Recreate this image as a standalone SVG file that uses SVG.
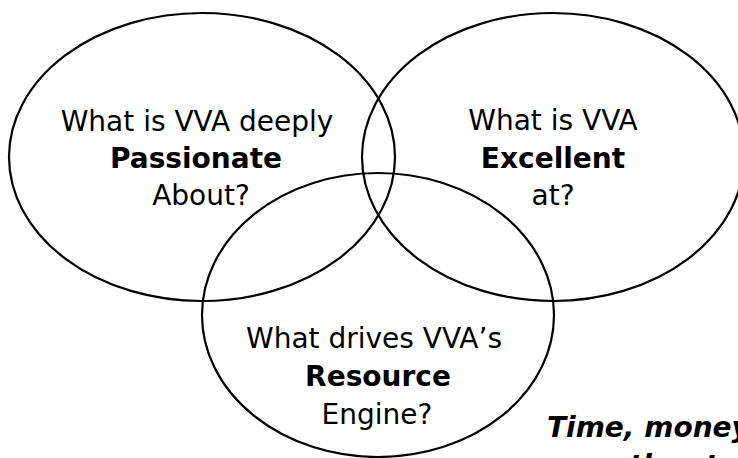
<svg xmlns="http://www.w3.org/2000/svg" width="738" height="458" viewBox="0 0 738 458">
  <style>
    .ring { fill: none; stroke: #000; stroke-width: 2.2; }
    .lbl { font-family: "DejaVu Sans", Verdana, sans-serif; font-size: 28px; fill: #000; text-anchor: middle; }
    .b { font-weight: bold; }
    .note { font-family: "DejaVu Sans", Verdana, sans-serif; font-size: 28px; font-weight: bold; font-style: italic; fill: #000; }
  </style>
  <rect width="738" height="458" fill="#fff"/>
  <g id="connectors"></g>
  <g id="passionate">
    <ellipse class="ring" cx="202" cy="157" rx="193" ry="144"/>
    <text class="lbl" x="197" y="131">What is VVA deeply</text>
    <text class="lbl b" x="196" y="168">Passionate</text>
    <text class="lbl" x="201" y="205">About?</text>
  </g>
  <g id="excellent">
    <ellipse class="ring" cx="553" cy="157" rx="191" ry="144"/>
    <text class="lbl" x="553" y="130">What is VVA</text>
    <text class="lbl b" x="553" y="168">Excellent</text>
    <text class="lbl" x="553" y="205">at?</text>
  </g>
  <g id="resource">
    <ellipse class="ring" cx="378" cy="315" rx="176" ry="142"/>
    <text class="lbl" x="374" y="348">What drives VVA’s</text>
    <text class="lbl b" x="378" y="386">Resource</text>
    <text class="lbl" x="377" y="424">Engine?</text>
  </g>
  <g id="note">
    <text class="note" x="547" y="437">Time, money,</text>
    <text class="note" x="547" y="475">our other talents</text>
  </g>
</svg>
